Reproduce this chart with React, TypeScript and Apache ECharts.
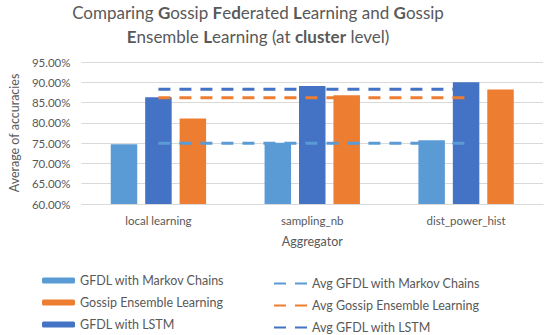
import React, { useEffect, useRef } from "react";
import * as echarts from "echarts";

const categories = ["local learning", "sampling_nb", "dist_power_hist"];
const markovValues = [74.7, 75.1, 75.7];
const lstmValues = [86.3, 89.1, 90.0];
const ensembleValues = [81.1, 86.8, 88.2];
const avgMarkov = [75.0, 75.0, 75.0];
const avgEnsemble = [86.2, 86.2, 86.2];
const avgLstm = [88.3, 88.3, 88.3];
const yTicks = { min: 60, max: 95, interval: 5 };

const LIGHT = "#5B9BD5";
const ORANGE = "#ED7D31";
const DARK = "#4472C4";
const TEXT = "#595959";
const FONT = "Lato, 'Open Sans', sans-serif";

export default function App() {
  const ref = useRef<HTMLDivElement>(null);
  useEffect(() => {
    document.body.style.margin = "0";
    if (!ref.current) return;
    const chart = echarts.init(ref.current, undefined, { renderer: "svg" });
    const dash = [12, 9];
    chart.setOption({
      animation: false,
      textStyle: { fontFamily: FONT, color: TEXT },
      title: {
        text:
          "Comparing {b|G}ossip {b|F}e{b|d}erated {b|L}earning and {b|G}ossip\n{b|E}nsemble {b|L}earning (at {b|cluster} level)",
        left: 258,
        textAlign: "center",
        top: 0,
        padding: 0,
        textStyle: {
          fontFamily: FONT,
          fontSize: 17,
          fontWeight: "normal",
          color: TEXT,
          lineHeight: 24,
          rich: {
            b: { fontFamily: FONT, fontSize: 17, fontWeight: "bold", color: TEXT, lineHeight: 24 },
          },
        },
      },
      grid: { left: 72, right: 7, top: 62, bottom: 131 },
      legend: [
        {
          orient: "vertical",
          left: 42,
          top: 273,
          padding: 0,
          itemWidth: 33,
          itemHeight: 6,
          itemGap: 7,
          textStyle: { fontFamily: FONT, fontSize: 12.5, color: TEXT, lineHeight: 15 },
          data: ["GFDL with Markov Chains", "Gossip Ensemble Learning", "GFDL with LSTM"],
        },
        {
          orient: "vertical",
          left: 273,
          top: 276,
          padding: 0,
          itemWidth: 33,
          itemHeight: 6,
          itemGap: 7,
          textStyle: { fontFamily: FONT, fontSize: 12.5, color: TEXT, lineHeight: 15 },
          data: ["Avg GFDL with Markov Chains", "Avg Gossip Ensemble Learning", "Avg GFDL with LSTM"],
        },
      ],
      xAxis: {
        type: "category",
        data: categories,
        name: "Aggregator",
        nameLocation: "middle",
        nameGap: 31,
        nameTextStyle: { fontFamily: FONT, fontSize: 12.5, color: TEXT },
        axisLine: { lineStyle: { color: "#D9D9D9" } },
        axisTick: { show: false },
        axisLabel: { fontFamily: FONT, fontSize: 11.5, color: TEXT, margin: 10 },
      },
      yAxis: {
        type: "value",
        min: yTicks.min,
        max: yTicks.max,
        interval: yTicks.interval,
        name: "Average of accuracies",
        nameLocation: "middle",
        nameGap: 55,
        nameTextStyle: { fontFamily: FONT, fontSize: 12.5, color: TEXT },
        axisLine: { show: false },
        axisTick: { show: false },
        splitLine: { lineStyle: { color: "#D9D9D9" } },
        axisLabel: {
          fontFamily: FONT,
          fontSize: 11.5,
          color: TEXT,
          margin: 11,
          formatter: (v: number) => v.toFixed(2) + "%",
        },
      },
      series: [
        {
          name: "GFDL with Markov Chains",
          type: "bar",
          data: markovValues,
          barCategoryGap: "38%",
          barGap: "30%",
          itemStyle: { color: LIGHT },
        },
        {
          name: "GFDL with LSTM",
          type: "bar",
          data: lstmValues,
          barCategoryGap: "38%",
          barGap: "30%",
          itemStyle: { color: DARK },
        },
        {
          name: "Gossip Ensemble Learning",
          type: "bar",
          data: ensembleValues,
          barCategoryGap: "38%",
          barGap: "30%",
          itemStyle: { color: ORANGE },
        },
        {
          name: "Avg GFDL with Markov Chains",
          type: "line",
          data: avgMarkov,
          symbol: "none",
          lineStyle: { color: LIGHT, width: 3, type: dash },
          itemStyle: { color: "rgba(0,0,0,0)" },
        },
        {
          name: "Avg Gossip Ensemble Learning",
          type: "line",
          data: avgEnsemble,
          symbol: "none",
          lineStyle: { color: ORANGE, width: 3, type: dash },
          itemStyle: { color: "rgba(0,0,0,0)" },
        },
        {
          name: "Avg GFDL with LSTM",
          type: "line",
          data: avgLstm,
          symbol: "none",
          lineStyle: { color: DARK, width: 3, type: dash },
          itemStyle: { color: "rgba(0,0,0,0)" },
        },
      ],
    });
    return () => chart.dispose();
  }, []);
  return <div ref={ref} style={{ width: 550, height: 335 }} />;
}
